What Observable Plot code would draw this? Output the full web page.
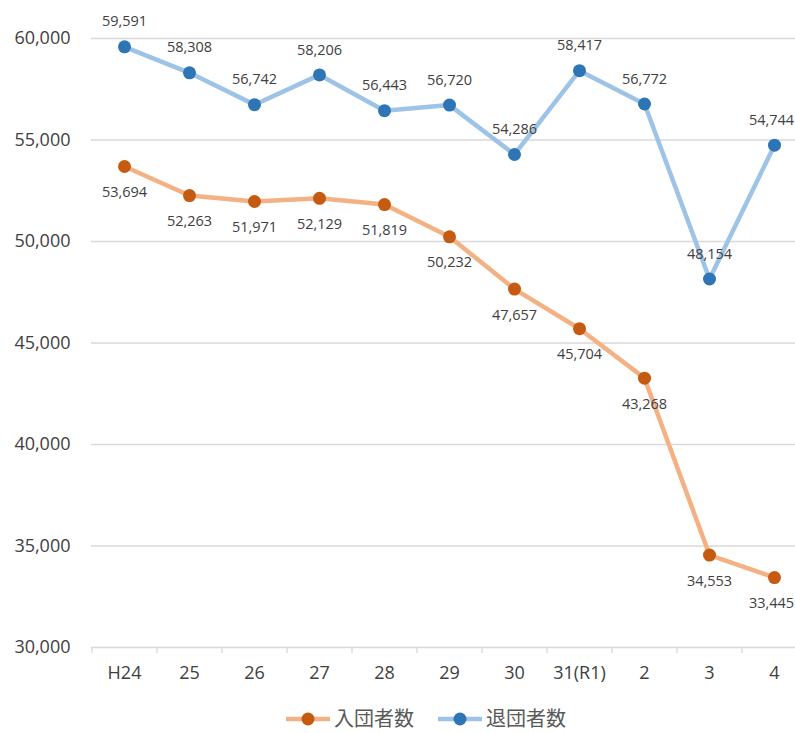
<!DOCTYPE html>
<html><head><meta charset="utf-8">
<script src="https://cdn.jsdelivr.net/npm/d3@7"></script>
<script src="https://cdn.jsdelivr.net/npm/@observablehq/plot@0.6"></script>
<style>
html,body{margin:0;padding:0;background:#fff;overflow:hidden;width:795px;height:733px;}
#chart svg{display:block;max-width:none !important;}
.legend{position:absolute;top:706px;left:0;width:852px;height:26px;line-height:26px;display:flex;justify-content:center;gap:24px;font-family:"Open Sans","Noto Sans CJK JP",sans-serif;font-size:20px;color:#595959;}
.legend .item{display:flex;align-items:center;gap:4px;}
</style>
</head><body>
<div id="chart"></div>
<div class="legend" id="legend"></div>
<script>
const categories = ["H24","25","26","27","28","29","30","31(R1)","2","3","4"];
const joined = [53694,52263,51971,52129,51819,50232,47657,45704,43268,34553,33445];
const left = [59591,58308,56742,58206,56443,56720,54286,58417,56772,48154,54744];
const yTicks = [30000,35000,40000,45000,50000,55000,60000];
const seriesNames = ["入団者数","退団者数"];
const lineColors = ["#F4B183","#9DC3E6"];
const dotColors = ["#C55A11","#2E75B6"];

const fmt = d3.format(",");
const dJoined = categories.map((c,i)=>({cat:c, v:joined[i]}));
const dLeft = categories.map((c,i)=>({cat:c, v:left[i]}));
const lastCat = categories[categories.length - 1];
const notLast = d => d.cat !== lastCat;
const isLast = d => d.cat === lastCat;

const font = '"Open Sans","Noto Sans CJK JP",sans-serif';

const chart = Plot.plot({
  width: 806,
  height: 700,
  marginLeft: 91,
  marginRight: 0,
  marginTop: 38,
  marginBottom: 53,
  style: {fontFamily: font, background: "#fff", overflow: "visible", maxWidth: "none"},
  x: {type: "point", domain: categories, padding: 0.5, label: null},
  y: {domain: [30000, 60000], label: null},
  marks: [
    Plot.gridY(yTicks, {stroke: "#d9d9d9", strokeOpacity: 1, strokeWidth: 1.3}),
    Plot.ruleX(categories, {x: d=>d, dx: -32.5, y1: 30000, y2: 30000, insetBottom: -6, stroke: "#d9d9d9", strokeWidth: 1.3}),
    Plot.axisY(yTicks, {tickSize: 0, tickPadding: 21, tickFormat: fmt, fontSize: 18, fill: "#404040", label: null}),
    Plot.axisX(categories, {tickSize: 0, tickPadding: 19, fontSize: 18, fill: "#404040", label: null}),
    Plot.line(dJoined, {x: "cat", y: "v", stroke: lineColors[0], strokeWidth: 4.5}),
    Plot.line(dLeft, {x: "cat", y: "v", stroke: lineColors[1], strokeWidth: 4.5}),
    Plot.dot(dJoined, {x: "cat", y: "v", r: 6.5, fill: dotColors[0], stroke: "none"}),
    Plot.dot(dLeft, {x: "cat", y: "v", r: 6.5, fill: dotColors[1], stroke: "none"}),
    Plot.text(dJoined.filter(notLast), {x: "cat", y: "v", text: d=>fmt(d.v), dy: 26, fontSize: 14.5, fill: "#404040"}),
    Plot.text(dLeft.filter(notLast), {x: "cat", y: "v", text: d=>fmt(d.v), dy: -25, fontSize: 14.5, fill: "#404040"}),
    Plot.text(dJoined.filter(isLast), {x: "cat", y: "v", text: d=>fmt(d.v), dx: -3, dy: 26, fontSize: 14.5, fill: "#404040"}),
    Plot.text(dLeft.filter(isLast), {x: "cat", y: "v", text: d=>fmt(d.v), dx: -3, dy: -25, fontSize: 14.5, fill: "#404040"})
  ]
});
document.getElementById("chart").appendChild(chart);

const legend = document.getElementById("legend");
seriesNames.forEach((name,i)=>{
  const item = document.createElement("div");
  item.className = "item";
  item.innerHTML = `<svg width="44" height="16"><line x1="0" y1="8" x2="44" y2="8" stroke="${lineColors[i]}" stroke-width="4.5"/><circle cx="22" cy="8" r="6.5" fill="${dotColors[i]}"/></svg><span>${name}</span>`;
  legend.appendChild(item);
});
</script>
</body></html>
